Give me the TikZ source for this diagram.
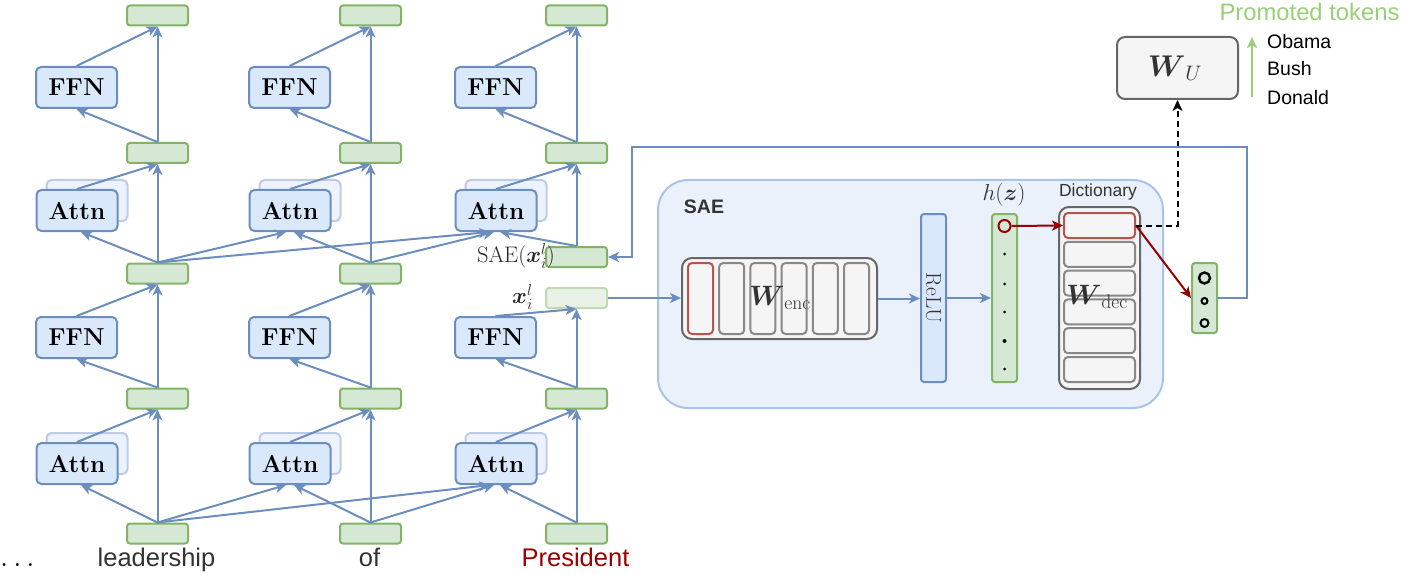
\RequirePackage{fix-cm}
\documentclass[tikz,border=0pt]{standalone}
\usepackage{amsmath}
\usepackage{fontspec}
\newfontfamily\arialf{Liberation Sans}
\usetikzlibrary{arrows.meta}
\definecolor{bfill}{HTML}{DAE8FC}
\definecolor{bline}{HTML}{6C8EBF}
\definecolor{gfill}{HTML}{D5E8D4}
\definecolor{gline}{HTML}{82B366}
\definecolor{grfill}{HTML}{F5F5F5}
\definecolor{grline}{HTML}{666666}
\definecolor{celline}{HTML}{888888}
\definecolor{cred}{HTML}{B85450}
\definecolor{dred}{HTML}{990000}
\definecolor{saefill}{HTML}{EAF1FB}
\definecolor{saeline}{HTML}{A9C4EB}
\definecolor{promo}{HTML}{97D077}
\definecolor{txt}{HTML}{333333}
\tikzset{
  blk/.style={draw=bline, fill=bfill, line width=2pt, rounded corners=5pt, minimum width=81pt, minimum height=41pt, inner sep=0pt, font=\bfseries\fontsize{24.5}{28}\selectfont},
  shd/.style={draw=bline!45, fill=bfill!50, line width=2pt, rounded corners=5pt, minimum width=81pt, minimum height=41pt, inner sep=0pt},
  gbox/.style={draw=gline, fill=gfill, line width=2pt, rounded corners=3pt, minimum width=61pt, minimum height=20pt, inner sep=0pt},
  gboxl/.style={draw=gline!50, fill=gfill!55, line width=2pt, rounded corners=3pt, minimum width=61pt, minimum height=20pt, inner sep=0pt},
  arr/.style={draw=bline, line width=2pt, -{Stealth[length=11pt,width=10pt,inset=3pt]}},
  rarr/.style={draw=dred, line width=2pt, -{Stealth[length=11pt,width=10pt,inset=3pt]}},
  darr/.style={draw=black, line width=2pt, dash pattern=on 6pt off 4pt, -{Stealth[length=11pt,width=10pt,inset=3pt]}},
  garr/.style={draw=promo, line width=2.2pt, -{Stealth[length=11pt,width=10pt,inset=3pt]}},
  cell/.style={draw=celline, fill=grfill, line width=2pt, rounded corners=4pt, inner sep=0pt},
  vec/.style={draw=gline, fill=gfill, line width=2pt, rounded corners=3pt, minimum width=25pt, inner sep=0pt},
  lab/.style={inner sep=0pt, text=txt},
}
\begin{document}
\begin{tikzpicture}[x=1pt,y=-1pt]
\useasboundingbox (0,0) rectangle (1401,575);

% ---------- transformer columns ----------
\foreach \i/\dx in {1/0,2/213,3/419}{
  \node[shd] at ({87+\dx},453.5) {};
  \node[shd] at ({87+\dx},200.5) {};
  \node[gbox] (gA\i) at ({157.5+\dx},533.5) {};
  \node[blk] (attA\i) at ({77+\dx},463.5) {Attn};
  \node[gbox] (gB\i) at ({157.5+\dx},398.5) {};
  \node[blk] (ffnA\i) at ({76.5+\dx},337.5) {FFN};
  \node[blk] (attB\i) at ({77+\dx},210.5) {Attn};
  \node[gbox] (gD\i) at ({157.5+\dx},153) {};
  \node[blk] (ffnB\i) at ({76.5+\dx},87.5) {FFN};
  \node[gbox] (gE\i) at ({157.5+\dx},15.5) {};
}
\node[gbox, alias=gS1] (gC1) at (157.5,273.5) {};
\node[gbox, alias=gS2] (gC2) at (370.5,273.5) {};
\node[gboxl] (gC3) at (576.5,298) {};
\node[gbox] (gS3) at (576.5,257) {};

\node[lab, text=black!85, anchor=east, font=\fontsize{22.5}{26}\selectfont] (saelab) at (555,256) {SAE($\boldsymbol{x}_i^l$)};
\node[lab, text=black!85, anchor=east, font=\fontsize{22.5}{26}\selectfont] (xlab) at (533,297) {$\boldsymbol{x}_i^l$};

\foreach \i in {1,2,3}{
  \draw[arr] (gA\i.north) -- ([xshift=4pt]attA\i.south);
  \draw[arr] (gA\i.north) -- (gB\i.south);
  \draw[arr] (attA\i.north) -- (gB\i.south);
  \draw[arr] (gB\i.north) -- (ffnA\i.south);
  \draw[arr] (gB\i.north) -- (gC\i.south);
  \draw[arr] (ffnA\i.north) -- (gC\i.south);
  \draw[arr] (gS\i.north) -- ([xshift=4pt]attB\i.south);
  \draw[arr] (gS\i.north) -- (gD\i.south);
  \draw[arr] (attB\i.north) -- (gD\i.south);
  \draw[arr] (gD\i.north) -- (ffnB\i.south);
  \draw[arr] (gD\i.north) -- (gE\i.south);
  \draw[arr] (ffnB\i.north) -- (gE\i.south);
}
\draw[arr] (gA1.north) -- ([xshift=-4pt]attA2.south);
\draw[arr] (gA1.north) -- ([xshift=-6pt]attA3.south);
\draw[arr] (gA2.north) -- ([xshift=-2pt]attA3.south);
\draw[arr] (gS1.north) -- ([xshift=-4pt]attB2.south);
\draw[arr] (gS1.north) -- ([xshift=-6pt]attB3.south);
\draw[arr] (gS2.north) -- ([xshift=-2pt]attB3.south);

% ---------- bottom tokens ----------
\node[anchor=base west, inner sep=0pt, font=\fontsize{30}{32}\selectfont] (dots) at (0,566) {$\ldots$};
\node[lab, anchor=base, font=\arialf\fontsize{25.5}{30}\selectfont] (tok1) at (156.5,566) {leadership};
\node[lab, anchor=base, font=\arialf\fontsize{25.5}{30}\selectfont] (tok2) at (369.5,566) {of};
\node[anchor=base, inner sep=0pt, text=dred, font=\arialf\fontsize{25.5}{30}\selectfont] (tok3) at (575.5,566) {President};

% ---------- SAE ----------
\node[draw=saeline, fill=saefill, line width=2pt, rounded corners=30pt, minimum width=505pt, minimum height=228pt] (sae) at (910.5,294) {};
\node[lab, font=\arialf\bfseries\fontsize{19.5}{22}\selectfont] (saetitle) at (704,207) {SAE};

\node[draw=grline, fill=grfill, line width=2pt, rounded corners=10pt, minimum width=195pt, minimum height=81pt, inner sep=0pt] (wenc) at (779.5,298.5) {};
\node[cell, draw=cred, minimum width=25pt, minimum height=71pt] (e1) at (700.5,298.5) {};
\foreach \k/\xx in {2/731.7,3/762.9,4/794.1,5/825.3,6/856.5}{
  \node[cell, minimum width=25pt, minimum height=71pt] (e\k) at (\xx,298.5) {};
}
\node[lab, font=\fontsize{28}{30}\selectfont] (wenclab) at (780,298) {$\boldsymbol{W}_{\text{enc}}$};

\node[draw=bline, fill=bfill, line width=2pt, rounded corners=3pt, minimum width=25pt, minimum height=168pt, inner sep=0pt] (relu) at (933.5,298) {};
\node[rotate=-90, lab, font=\fontsize{21.5}{24}\selectfont] (relulab) at (relu.center) {ReLU};

\node[vec, minimum height=168pt] (hz) at (1004.5,298) {};
\node[circle, draw=dred, fill=gfill, line width=2pt, minimum size=12pt, inner sep=0pt] (hc) at (1004.5,226) {};
\foreach \yy/\rr in {254/1.5,284/1.5,312/1.5,341/2,369/1.5}{
  \fill (1004.5,\yy) circle (\rr pt);
}
\node[lab, font=\fontsize{23}{26}\selectfont] (hzlab) at (1004,195) {$h(\boldsymbol{z})$};

\node[draw=grline, fill=grfill, line width=2pt, rounded corners=10pt, minimum width=81pt, minimum height=182pt, inner sep=0pt] (dict) at (1099.5,298) {};
\node[lab, font=\arialf\fontsize{17.5}{20}\selectfont] (dictlab) at (1098,192) {Dictionary};
\node[cell, draw=cred, minimum width=71pt, minimum height=25pt] (r1) at (1099.5,225.5) {};
\foreach \k/\yy in {2/254.3,3/283.1,4/311.9,5/340.7,6/369.5}{
  \node[cell, minimum width=71pt, minimum height=25pt] (r\k) at (1099.5,\yy) {};
}
\node[lab, font=\fontsize{28}{30}\selectfont] (wdeclab) at (1097,297) {$\boldsymbol{W}_{\text{dec}}$};

\node[vec, minimum height=70pt] (out) at (1204.5,298) {};
\draw[line width=2.4pt] (1204.5,278) circle (5.5pt);
\draw[line width=2pt] (1204.5,301) circle (3pt);
\draw[line width=2pt] (1204.5,323) circle (4pt);

% ---------- W_U ----------
\node[draw=grline, fill=grfill, line width=2pt, rounded corners=8pt, minimum width=121pt, minimum height=62pt, inner sep=0pt] (wu) at (1177.5,68) {};
\node[lab, font=\fontsize{30}{33}\selectfont] (wulab) at (1175,68) {$\boldsymbol{W}_U$};

\coordinate (ga) at (1252,97);
\coordinate (gb) at (1252,37);
\draw[garr] (ga) -- (gb);
\node[inner sep=0pt, text=promo, font=\arialf\fontsize{23.8}{26}\selectfont] (promo) at (1309.5,12) {Promoted tokens};
\node[lab, text=black, anchor=west, font=\arialf\fontsize{19.5}{22}\selectfont] (t1) at (1267,42) {Obama};
\node[lab, text=black, anchor=west, font=\arialf\fontsize{19.5}{22}\selectfont] (t2) at (1267,69) {Bush};
\node[lab, text=black, anchor=west, font=\arialf\fontsize{19.5}{22}\selectfont] (t3) at (1267,98) {Donald};

% ---------- connectors on the right ----------
\draw[arr] (gC3.east) -- (gC3.east -| wenc.west);
\draw[arr] (wenc.east) -- (wenc.east -| relu.west);
\draw[arr] (relu.east) -- (relu.east -| hz.west);
\draw[rarr] (hc.east) -- (r1.west);
\draw[rarr] (r1.east) -- (out.west);
\draw[darr] (r1.east) -- (r1.east -| wu.south) -- (wu.south);
\draw[arr] (out.east) -- ++(29,0) |- (632,147) |- (gS3.east);
\end{tikzpicture}
\end{document}
